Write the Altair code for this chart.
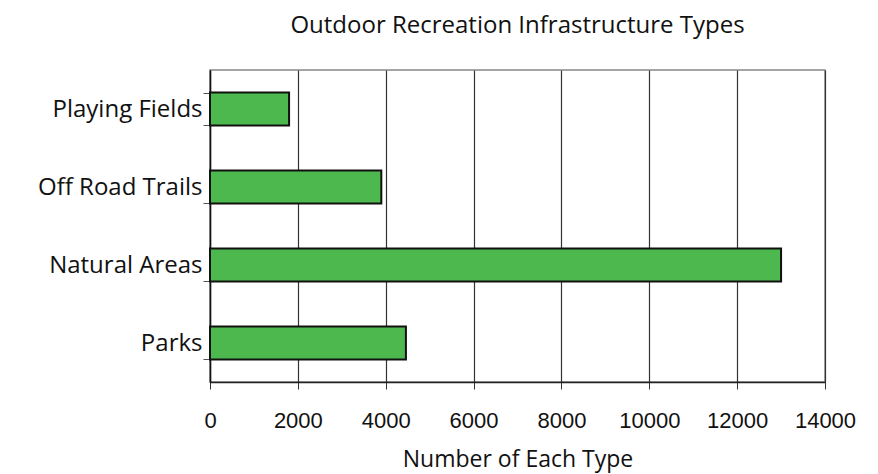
import altair as alt
import pandas as pd

categories = ["Playing Fields", "Off Road Trails", "Natural Areas", "Parks"]
values = [1800, 3900, 13000, 4460]
x_ticks = [0, 2000, 4000, 6000, 8000, 10000, 12000, 14000]

df = pd.DataFrame({"type": categories, "count": values})

chart = alt.Chart(df).mark_bar(
    color="#4CB84D", stroke="#111111", strokeWidth=2
).encode(
    x=alt.X(
        "count:Q",
        scale=alt.Scale(domain=[0, 14000], nice=False),
        axis=alt.Axis(
            values=x_ticks,
            format="d",
            labelOverlap=False,
            labelFlush=False,
            title="Number of Each Type",
            titleFont="Open Sans",
            titleFontSize=23,
            titleFontWeight="normal",
            titleColor="#111111",
            titleBaseline="alphabetic",
            titleY=84,
            labelFont="Liberation Sans",
            labelFontSize=22,
            labelColor="#111111",
            labelPadding=21,
            tickSize=7,
            tickColor="#333333",
            domainColor="#222222",
            domainWidth=1.5,
            grid=True,
            gridColor="#333333",
            gridWidth=1.2,
        ),
    ),
    y=alt.Y(
        "type:N",
        sort=categories,
        scale=alt.Scale(paddingInner=0.58, paddingOuter=0.29),
        axis=alt.Axis(
            title=None,
            labelFont="Open Sans",
            labelFontSize=24,
            labelColor="#111111",
            labelPadding=1,
            tickSize=7,
            tickBand="extent",
            tickColor="#555555",
            domainColor="#111111",
            domainWidth=1.5,
            grid=False,
        ),
    ),
).properties(
    width=615,
    height=312,
    title=alt.TitleParams(
        "Outdoor Recreation Infrastructure Types",
        font="Open Sans",
        fontSize=24,
        fontWeight="normal",
        color="#111111",
        anchor="middle",
        offset=20,
    ),
    autosize=alt.AutoSizeParams(type="none"),
    padding={"left": 202, "top": 62, "right": 45, "bottom": 96},
).configure_view(
    stroke="#888888", strokeWidth=1.5
)

chart.save("out.html", embed_options={"renderer": "svg", "actions": False})
